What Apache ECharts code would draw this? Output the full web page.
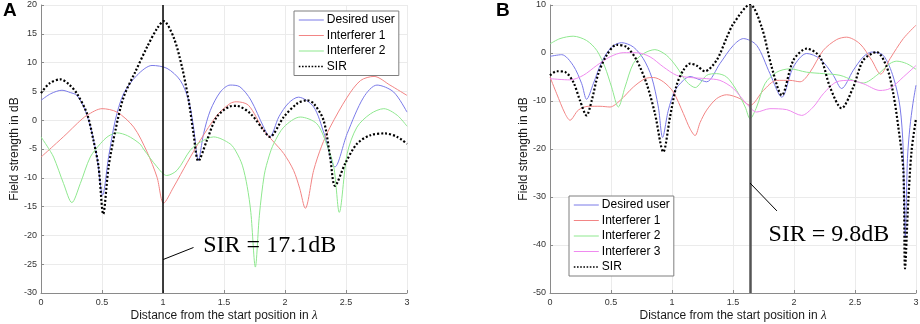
<!DOCTYPE html>
<html>
<head>
<meta charset="utf-8">
<script src="https://cdn.jsdelivr.net/npm/echarts@6/dist/echarts.min.js"></script>
<style>
  html, body { margin: 0; padding: 0; background: #fff; }
  #chart { width: 920px; height: 324px; }
</style>
</head>
<body>
<div id="chart"></div>
<script>
// panel A : [distance in lambda, dB]
const desiredA = [[0,3.45],[0.08,4.6],[0.172,5.2],[0.24,4.8],[0.295,4.3],[0.363,1.7],[0.418,-2.3],[0.459,-6.4],[0.505,-13.0],[0.554,-6.4],[0.609,0.0],[0.677,4.6],[0.787,7.8],[0.91,9.5],[1.033,9.0],[1.142,6.9],[1.21,3.45],[1.25,-1.2],[1.29,-7.0],[1.333,-2.3],[1.388,1.7],[1.47,4.9],[1.55,6.1],[1.63,5.8],[1.72,3.5],[1.825,-1.2],[1.875,-2.9],[1.95,0.6],[2.03,3.0],[2.11,4.0],[2.235,2.3],[2.32,-2.3],[2.41,-8.1],[2.51,-2.3],[2.645,4.0],[2.754,6.1],[2.89,4.9],[3,1.4]]
const interf1A = [[0,-6.4],[0.1,-4.5],[0.213,-2.3],[0.3,-0.5],[0.377,0.85],[0.5,2.0],[0.623,1.4],[0.76,-1.2],[0.869,-5.5],[0.951,-9.9],[1.005,-14.4],[1.087,-11.6],[1.2,-7.3],[1.305,-3.5],[1.443,0.85],[1.55,2.9],[1.6,3.2],[1.7,2.6],[1.825,-1.75],[1.9,-3.6],[1.99,-5.8],[2.07,-8.7],[2.12,-11.8],[2.166,-15.3],[2.235,-8.7],[2.3,-4.5],[2.37,-1.2],[2.51,4.0],[2.62,6.9],[2.73,7.6],[2.86,6.1],[3,4.3]]
const interf2A = [[0,-2.9],[0.05,-4.5],[0.103,-6.4],[0.185,-11.0],[0.253,-14.3],[0.322,-11.0],[0.404,-6.4],[0.486,-4.1],[0.55,-2.8],[0.623,-2.2],[0.71,-2.7],[0.81,-4.1],[0.84,-5.0],[0.951,-8.1],[1.03,-9.6],[1.115,-8.7],[1.224,-5.2],[1.305,-3.8],[1.415,-2.9],[1.55,-4.1],[1.6,-5.5],[1.65,-7.8],[1.69,-11.5],[1.72,-16.0],[1.757,-25.5],[1.79,-16.5],[1.83,-9.5],[1.87,-6.2],[1.907,-4.1],[1.99,-1.2],[2.125,0.55],[2.26,-0.6],[2.34,-4.1],[2.4,-8.1],[2.445,-16.0],[2.51,-5.8],[2.59,-1.2],[2.7,1.1],[2.81,2.0],[2.92,0.85],[3,-1.05]]
const sirA = [[0,4.7],[0.07,6.4],[0.158,7.1],[0.23,6.2],[0.295,4.6],[0.377,1.15],[0.43,-3.5],[0.472,-8.1],[0.51,-16.3],[0.554,-8.1],[0.61,-1.75],[0.677,4.0],[0.773,8.4],[0.869,12.7],[0.951,15.9],[1.005,17.2],[1.087,14.4],[1.156,9.2],[1.21,3.45],[1.25,-2.3],[1.29,-7.1],[1.36,-3.5],[1.44,0.55],[1.55,2.4],[1.6,2.5],[1.716,1.15],[1.825,-1.75],[1.875,-2.9],[1.99,0.55],[2.1,2.9],[2.18,3.45],[2.235,2.9],[2.316,0.0],[2.37,-6.4],[2.41,-11.4],[2.494,-7.5],[2.59,-4.1],[2.7,-2.6],[2.82,-2.3],[2.92,-2.9],[3,-4.1]]

// panel B
const desiredB = [[0,-0.7],[0.096,-0.35],[0.19,-2.6],[0.26,-6.4],[0.3,-9.65],[0.355,-6.4],[0.423,-1.9],[0.505,1.25],[0.587,2.15],[0.683,1.25],[0.765,-1.2],[0.833,-5.0],[0.888,-11.25],[0.923,-17.6],[0.97,-11.9],[1.025,-7.8],[1.093,-5.7],[1.148,-4.9],[1.21,-5.4],[1.284,-6.0],[1.393,-2.2],[1.503,1.6],[1.585,3.0],[1.694,1.6],[1.803,-4.3],[1.9,-9.2],[1.995,-2.9],[2.104,-0.1],[2.213,-1.2],[2.322,-4.65],[2.39,-7.4],[2.486,-3.6],[2.568,-0.8],[2.637,0.2],[2.732,-0.5],[2.814,-5.0],[2.869,-11.25],[2.895,-20],[2.912,-38.5],[2.93,-22],[2.95,-15.5],[2.975,-10.5],[3,-6.7]]
const interf1B = [[0,-5.0],[0.055,-8.5],[0.123,-12.6],[0.164,-14.0],[0.232,-11.9],[0.314,-11.1],[0.41,-11.1],[0.492,-11.25],[0.574,-9.9],[0.683,-7.1],[0.779,-5.35],[0.847,-5.1],[0.929,-6.0],[1.01,-8.1],[1.093,-12.6],[1.148,-15.8],[1.189,-17.2],[1.23,-14.5],[1.284,-11.9],[1.366,-9.5],[1.448,-8.7],[1.557,-9.5],[1.64,-10.9],[1.749,-7.8],[1.858,-5.7],[1.967,-5.7],[2.05,-6.0],[2.131,-4.0],[2.24,0.55],[2.35,2.8],[2.43,3.3],[2.541,1.9],[2.637,-1.5],[2.71,-4.4],[2.787,-1.2],[2.896,3.0],[3,5.8]]
const interf2B = [[0,1.9],[0.082,3.0],[0.19,3.5],[0.3,2.6],[0.383,0.55],[0.45,-2.9],[0.505,-7.1],[0.56,-11.25],[0.615,-7.1],[0.683,-2.2],[0.765,-0.15],[0.86,0.7],[0.956,-0.5],[1.038,-2.9],[1.12,-6.0],[1.19,-7.2],[1.284,-4.65],[1.366,-4.3],[1.448,-5.0],[1.53,-7.8],[1.6,-11.25],[1.64,-13.7],[1.694,-11.25],[1.762,-6.4],[1.858,-4.0],[1.967,-3.3],[2.104,-4.0],[2.24,-4.3],[2.377,-4.65],[2.486,-5.7],[2.568,-6.25],[2.678,-4.65],[2.787,-2.2],[2.842,-1.7],[2.923,-2.2],[3,-3.4]]
const interf3B = [[0,-5.35],[0.164,-5.6],[0.273,-4.65],[0.383,-2.6],[0.492,-0.8],[0.6,0.07],[0.71,0.07],[0.82,-0.8],[0.929,-2.9],[1.038,-4.65],[1.148,-5.1],[1.284,-5.35],[1.393,-5.7],[1.503,-7.4],[1.612,-10.6],[1.694,-12.3],[1.803,-11.6],[1.94,-11.8],[2.063,-13.0],[2.158,-11.25],[2.24,-8.5],[2.35,-6.0],[2.46,-5.7],[2.568,-6.4],[2.705,-7.8],[2.787,-7.4],[2.896,-5.0],[3,-2.6]]
const sirB = [[0,-4.65],[0.055,-3.8],[0.123,-3.95],[0.19,-6.0],[0.246,-9.9],[0.3,-13.0],[0.342,-9.9],[0.396,-4.3],[0.464,-0.5],[0.546,1.7],[0.628,1.25],[0.71,-1.5],[0.792,-6.4],[0.86,-12.6],[0.929,-20.6],[0.984,-13.3],[1.038,-6.7],[1.093,-3.6],[1.148,-2.2],[1.2,-2.6],[1.27,-3.8],[1.366,-1.5],[1.45,3.3],[1.503,6.1],[1.64,10.1],[1.735,5.4],[1.817,-2.9],[1.9,-8.8],[1.995,-1.5],[2.104,0.9],[2.213,-0.8],[2.295,-7.1],[2.39,-11.5],[2.486,-7.1],[2.568,-1.5],[2.678,0.2],[2.76,-2.9],[2.814,-8.5],[2.855,-15.4],[2.896,-24.4],[2.91,-44.9],[2.937,-30.7],[2.964,-20.3],[3,-13.7]]

// axis ranges
const xRange = [0, 3, 0.5]
const yRangeA = [-30, 20, 5]
const yRangeB = [-50, 10, 10]

// annotations (data coordinates)
const cutA = 1.0
const sirValueA = 17.1
const pointerA = [[1.0, -24.2], [1.25, -22.1]]
const labelPosA = [1.33, -21.8]
const cutB = 1.64
const sirValueB = 9.8
const pointerB = [[1.64, -27.1], [1.86, -32.9]]
const labelPosB = [1.79, -37.8]

const sansFont = 'Liberation Sans, Arial, sans-serif'
const colors = {
  desired: '#7a7ae8',
  i1: '#f28585',
  i2: '#8fe88f',
  i3: '#ef8aef',
  sir: '#000'
}

const chart = echarts.init(document.getElementById('chart'))

function makeXAxis(idx) {
  return {
    type: 'value',
    gridIndex: idx,
    min: xRange[0],
    max: xRange[1],
    interval: xRange[2],
    name: '{n|Distance from the start position in }{l|λ}',
    nameLocation: 'middle',
    nameGap: 16,
    nameMoveOverlap: false,
    nameTextStyle: {
      rich: {
        n: { fontFamily: sansFont, fontSize: 12, color: '#1a1a1a' },
        l: { fontFamily: 'Liberation Serif, serif', fontStyle: 'italic', fontSize: 13, color: '#1a1a1a' }
      }
    },
    axisLine: { show: true, onZero: false, lineStyle: { color: '#8a8a8a', width: 1 } },
    axisTick: { show: true, inside: true, length: 3, lineStyle: { color: '#8a8a8a' } },
    axisLabel: { fontFamily: sansFont, fontSize: 9, color: '#333', margin: 5 },
    splitLine: { show: true, lineStyle: { color: '#ebebeb', width: 1 } }
  }
}

function makeYAxis(idx, r) {
  return {
    type: 'value',
    gridIndex: idx,
    min: r[0],
    max: r[1],
    interval: r[2],
    name: 'Field strength in dB',
    nameLocation: 'middle',
    nameGap: 20,
    nameMoveOverlap: false,
    nameTextStyle: { fontFamily: sansFont, fontSize: 12, color: '#1a1a1a' },
    axisLine: { show: true, onZero: false, lineStyle: { color: '#8a8a8a', width: 1 } },
    axisTick: { show: true, inside: true, length: 3, lineStyle: { color: '#8a8a8a' } },
    axisLabel: { fontFamily: sansFont, fontSize: 9, color: '#333', margin: 4 },
    splitLine: { show: true, lineStyle: { color: '#ebebeb', width: 1 } }
  }
}

function curve(name, data, color, idx) {
  return {
    name: name,
    type: 'line',
    xAxisIndex: idx,
    yAxisIndex: idx,
    data: data,
    symbol: 'none',
    smooth: 0.3,
    lineStyle: { color: color, width: 1 },
    itemStyle: { color: color },
    z: 2
  }
}

function sirCurve(data, idx, cut, pointer, labelPos, value, cutStyle) {
  const s = curve('SIR', data, colors.sir, idx)
  s.lineStyle = { color: '#000', width: 2.2, type: [2, 2] }
  s.z = 3
  s.markLine = {
    silent: true,
    animation: false,
    symbol: ['none', 'none'],
    label: { show: false },
    lineStyle: { color: '#000', width: 1, type: 'solid' },
    data: [
      { xAxis: cut, lineStyle: cutStyle },
      [{ coord: pointer[0] }, { coord: pointer[1] }]
    ]
  }
  s.markPoint = {
    silent: true,
    animation: false,
    symbol: 'circle',
    symbolSize: 0,
    data: [{ coord: labelPos, value: value }],
    label: {
      show: true,
      position: 'right',
      distance: 0,
      formatter: 'SIR = ' + value.toFixed(1) + 'dB',
      fontFamily: 'Liberation Serif, Times New Roman, serif',
      fontSize: 24,
      color: '#000'
    }
  }
  return s
}

const legendBase = {
  orient: 'vertical',
  backgroundColor: '#fff',
  borderColor: '#7f7f7f',
  borderWidth: 1,
  padding: [3, 4, 3, 4],
  itemWidth: 25,
  itemHeight: 10,
  itemGap: 3.5,
  selectedMode: false,
  itemStyle: { opacity: 0 },
  lineStyle: { width: 1 },
  textStyle: { fontFamily: sansFont, fontSize: 12, color: '#000', padding: [0, 0, 0, -2] }
}

function legendItem(name, color) {
  return { name: name, lineStyle: { color: color, width: 1 } }
}
const sirLegendItem = { name: 'SIR', lineStyle: { color: '#000', width: 1.6, type: [1.6, 1.6] } }

const option = {
  animation: false,
  title: [
    { text: 'A', left: 3, top: 1, padding: 0, textStyle: { fontFamily: sansFont, fontSize: 19, fontWeight: 'bold', color: '#000' } },
    { text: 'B', left: 496, top: 1, padding: 0, textStyle: { fontFamily: sansFont, fontSize: 19, fontWeight: 'bold', color: '#000' } }
  ],
  grid: [
    { left: 41, top: 5, width: 366, height: 288, containLabel: false, outerBoundsMode: 'none' },
    { left: 550, top: 5, width: 366, height: 288, containLabel: false, outerBoundsMode: 'none' }
  ],
  legend: [
    Object.assign({}, legendBase, {
      left: 294,
      top: 11,
      data: [
        legendItem('Desired user', colors.desired),
        legendItem('Interferer 1', colors.i1),
        legendItem('Interferer 2', colors.i2),
        sirLegendItem
      ]
    }),
    Object.assign({}, legendBase, {
      left: 569,
      top: 196,
      data: [
        legendItem('Desired user', colors.desired),
        legendItem('Interferer 1', colors.i1),
        legendItem('Interferer 2', colors.i2),
        legendItem('Interferer 3', colors.i3),
        sirLegendItem
      ]
    })
  ],
  xAxis: [makeXAxis(0), makeXAxis(1)],
  yAxis: [makeYAxis(0, yRangeA), makeYAxis(1, yRangeB)],
  series: [
    curve('Desired user', desiredA, colors.desired, 0),
    curve('Interferer 1', interf1A, colors.i1, 0),
    curve('Interferer 2', interf2A, colors.i2, 0),
    sirCurve(sirA, 0, cutA, pointerA, labelPosA, sirValueA, { color: '#000', width: 1.5 }),
    curve('Desired user', desiredB, colors.desired, 1),
    curve('Interferer 1', interf1B, colors.i1, 1),
    curve('Interferer 2', interf2B, colors.i2, 1),
    curve('Interferer 3', interf3B, colors.i3, 1),
    sirCurve(sirB, 1, cutB, pointerB, labelPosB, sirValueB, { color: '#555', width: 2.5 })
  ]
}

chart.setOption(option)
window.addEventListener('resize', function() {
  chart.resize()
})
</script>
</body>
</html>
